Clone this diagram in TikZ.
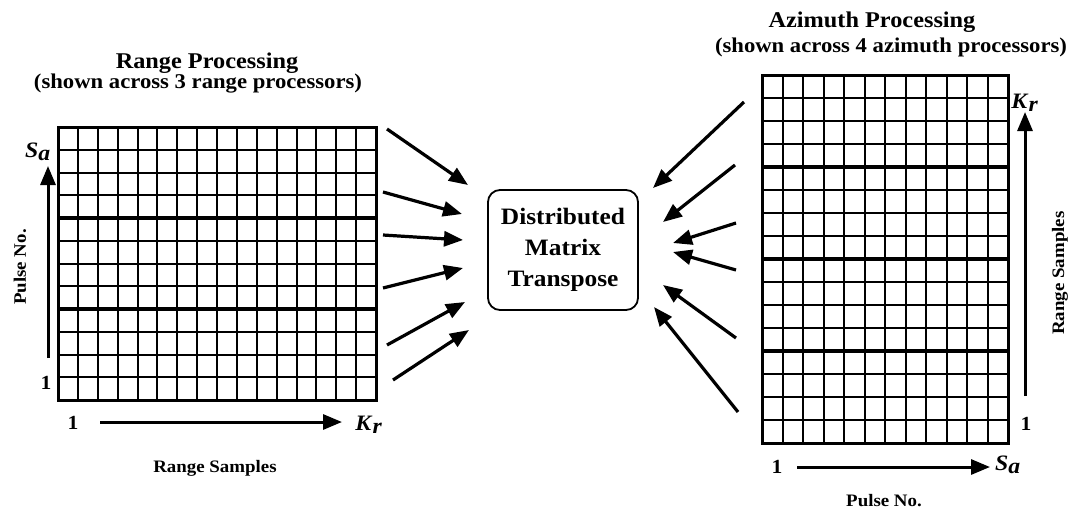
\documentclass[tikz,border=0pt]{standalone}
\usepackage{fontspec}
\setmainfont[FakeStretch=1.08]{Liberation Serif}
\usetikzlibrary{arrows.meta}
\newcommand{\symSa}{\textbf{\textit{S}}$_{\textbf{\textit{a}}}$}
\newcommand{\symKr}{\textbf{\textit{K}}$_{\textbf{\textit{r}}}$}
\begin{document}
\begin{tikzpicture}[x=1pt,y=-1pt,
  flow/.style={line width=3.2pt,-{Triangle[length=19pt,width=15pt]}},
  axisarrow/.style={line width=3pt,-{Triangle[length=19pt,width=15pt]}},
  cellline/.style={line width=2pt},
  splitline/.style={line width=4pt},
  frameline/.style={line width=3pt},
  titletext/.style={font=\bfseries\fontsize{22.5}{26}\selectfont, inner sep=0pt},
  subtext/.style={font=\bfseries\fontsize{21}{24}\selectfont, inner sep=0pt},
  axistext/.style={font=\bfseries\fontsize{17.5}{20}\selectfont, inner sep=0pt},
  numtext/.style={font=\bfseries\fontsize{20}{22}\selectfont, inner sep=0pt},
  symtext/.style={font=\fontsize{22}{24}\selectfont, inner sep=0pt},
  boxnode/.style={draw, line width=1.8pt, rounded corners=12pt,
    minimum width=150pt, minimum height=120pt, align=center,
    font=\bfseries\fontsize{23.5}{31}\selectfont}
]
\useasboundingbox (0,0) rectangle (1070,512);

% ---------- range processing grid: 16 range bins x 12 pulses ----------
\foreach \i in {0,...,16}{
  \pgfmathsetmacro\xx{round(58+\i*19.875)}
  \draw[cellline] (\xx,127) -- (\xx,400);
}
\foreach \j in {0,...,12}{
  \pgfmathsetmacro\yy{round(127+\j*22.75)}
  \draw[cellline] (58,\yy) -- (376,\yy);
}
\foreach \j in {4,8}{
  \pgfmathsetmacro\yy{round(127+\j*22.75)}
  \draw[splitline] (58,\yy) -- (376,\yy);
}
\draw[frameline] (58,127) rectangle (376,400);

\node[titletext] (rtitle) at (207,63) {Range Processing};
\node[subtext] (rsub) at (198,84) {(shown across 3 range processors)};

\node[axistext, rotate=90] (rpulse) at (20,267) {Pulse No.};
\node[symtext] (rsa) at (38,152) {\symSa};
\node[numtext] (rone) at (46,383) {1};
\coordinate (rup0) at (48,358);
\coordinate (rup1) at (48,166);
\draw[axisarrow] (rup0) -- (rup1);

\node[numtext] (rbone) at (73,423) {1};
\coordinate (rright0) at (100,422);
\coordinate (rright1) at (342,422);
\draw[axisarrow] (rright0) -- (rright1);
\node[symtext] (rkr) at (369,425) {\symKr};
\node[axistext] (rsamples) at (215,468) {Range Samples};

% ---------- azimuth processing grid: 12 pulses x 16 range bins ----------
\foreach \i in {0,...,12}{
  \pgfmathsetmacro\xx{round(762+\i*20.5)}
  \draw[cellline] (\xx,75) -- (\xx,443);
}
\foreach \j in {0,...,16}
  \draw[cellline] (762,{75+\j*23}) -- (1008,{75+\j*23});
\foreach \j in {4,8,12}
  \draw[splitline] (762,{75+\j*23}) -- (1008,{75+\j*23});
\draw[frameline] (762,75) rectangle (1008,443);

\node[titletext] (atitle) at (872,22) {Azimuth Processing};
\node[subtext] (asub) at (891,47) {(shown across 4 azimuth processors)};

\node[symtext] (akr) at (1025,103) {\symKr};
\coordinate (aup0) at (1025,396);
\coordinate (aup1) at (1025,112);
\draw[axisarrow] (aup0) -- (aup1);
\node[numtext] (aone) at (1026,424) {1};
\node[axistext, rotate=90] (asamples) at (1060,273) {Range Samples};

\node[numtext] (abone) at (777,467) {1};
\coordinate (aright0) at (797,467);
\coordinate (aright1) at (990,467);
\draw[axisarrow] (aright0) -- (aright1);
\node[symtext] (asa) at (1008,465) {\symSa};
\node[axistext] (apulse) at (884,501) {Pulse No.};

% ---------- transpose ----------
\node[boxnode] (dmt) at (563,250) {Distributed\\Matrix\\Transpose};

% data flowing from the range processors into the transpose
\coordinate (ls1) at (387,129); \coordinate (le1) at (468,185);
\coordinate (ls2) at (383,192); \coordinate (le2) at (462,214);
\coordinate (ls3) at (383,235); \coordinate (le3) at (463,240);
\coordinate (ls4) at (383,288); \coordinate (le4) at (463,268);
\coordinate (ls5) at (387,345); \coordinate (le5) at (465,302);
\coordinate (ls6) at (393,380); \coordinate (le6) at (469,330);
\foreach \k in {1,...,6}
  \draw[flow] (ls\k) -- (le\k);

% data flowing from the transpose to the azimuth processors
\coordinate (rs1) at (744,102); \coordinate (re1) at (653,188);
\coordinate (rs2) at (735,165); \coordinate (re2) at (663,222);
\coordinate (rs3) at (736,223); \coordinate (re3) at (673,243);
\coordinate (rs4) at (736,270); \coordinate (re4) at (673,252);
\coordinate (rs5) at (736,338); \coordinate (re5) at (663,285);
\coordinate (rs6) at (738,412); \coordinate (re6) at (654,307);
\foreach \k in {1,...,6}
  \draw[flow] (rs\k) -- (re\k);
\end{tikzpicture}
\end{document}
